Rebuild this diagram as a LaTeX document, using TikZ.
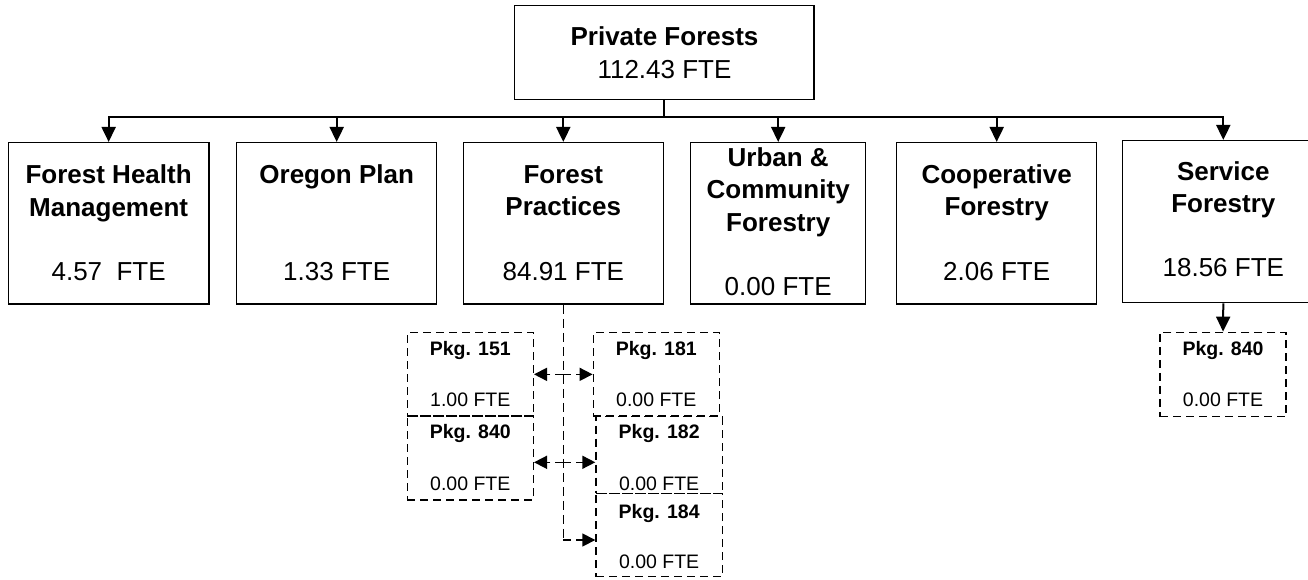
\documentclass[tikz,border=0pt]{standalone}
\usepackage{fontspec}
\setmainfont{Liberation Sans}
\usetikzlibrary{arrows.meta}
\begin{document}
\begin{tikzpicture}[x=1pt,y=-1pt,
  box/.style={draw, line width=1.5pt, rectangle, inner sep=0pt},
  dbox/.style={draw, line width=1.4pt, rectangle, inner sep=0pt, dash pattern=on 8pt off 5pt},
  big/.style={anchor=base, inner sep=0pt, font=\fontsize{26}{30}\selectfont},
  bigb/.style={big, font=\fontsize{26}{30}\selectfont\bfseries},
  sm/.style={anchor=base, inner sep=0pt, font=\fontsize{19.5}{23}\selectfont},
  smb/.style={sm, font=\fontsize{19.5}{23}\selectfont\bfseries},
  conn/.style={line width=2pt, -{Triangle[width=14pt,length=15pt]}},
  dconn/.style={line width=1.6pt, dash pattern=on 8pt off 5pt, -{Triangle[width=13pt,length=13pt]}},
  dline/.style={line width=1.6pt, dash pattern=on 9pt off 5pt}]
\useasboundingbox (0,0) rectangle (1308,580);
\clip (0,0) rectangle (1308,580);
\fill[white] (0,0) rectangle (1308,580);

% main boxes
\node[box, minimum width=299.3pt, minimum height=93.6pt] (top) at (664.35,52.5) {};
\node[box, minimum width=200.7pt, minimum height=161.3pt] (fh) at (108.65,223.35) {};
\node[box, minimum width=200pt, minimum height=161.3pt] (op) at (336.7,223.35) {};
\node[box, minimum width=200pt, minimum height=161.3pt] (fp) at (563.3,223.35) {};
\node[box, minimum width=175pt, minimum height=161.3pt] (uc) at (778.2,223.35) {};
\node[box, minimum width=200pt, minimum height=161.3pt] (co) at (996.7,223.35) {};
\node[box, minimum width=201.3pt, minimum height=162pt] (sf) at (1223.3,221.7) {};

% package boxes
\node[dbox, minimum width=126pt, minimum height=83.3pt] (p151) at (470.3,374.35) {};
\node[dbox, minimum width=126pt, minimum height=84pt] (p840l) at (470.3,458) {};
\node[dbox, minimum width=126pt, minimum height=83.3pt] (p181) at (656.3,374.35) {};
\node[dbox, minimum width=126.3pt, minimum height=76.6pt] (p182) at (659.15,455) {};
\node[dbox, minimum width=126.3pt, minimum height=83.4pt] (p184) at (659.15,535) {};
\node[dbox, minimum width=126pt, minimum height=84.4pt] (p840r) at (1223,374.5) {};

% texts
\node[bigb] (t1) at (664.5,45.7) {Private Forests};
\node[big] (t2) at (664.5,78.3) {112.43 FTE};

\node[bigb] (fh1) at (108.65,184) {Forest Health};
\node[bigb] (fh2) at (108.65,216.7) {Management};
\node[big] (fh3) at (108.65,280) {4.57\ \ FTE};

\node[bigb] (op1) at (336.7,184) {Oregon Plan};
\node[big] (op3) at (336.7,280) {1.33 FTE};

\node[bigb] (fp1) at (563.3,183.3) {Forest};
\node[bigb] (fp2) at (563.3,215.7) {Practices};
\node[big] (fp3) at (563.3,280) {84.91 FTE};

\node[bigb] (uc1) at (778.2,166.7) {Urban \&};
\node[bigb] (uc2) at (778.2,199) {Community};
\node[bigb] (uc3) at (778.2,231) {Forestry};
\node[big] (uc4) at (778.2,295.7) {0.00 FTE};

\node[bigb] (co1) at (996.7,183.3) {Cooperative};
\node[bigb] (co2) at (996.7,215.7) {Forestry};
\node[big] (co3) at (996.7,280) {2.06 FTE};

\node[bigb] (sf1) at (1223.3,181) {Service};
\node[bigb] (sf2) at (1223.3,212.7) {Forestry};
\node[big] (sf3) at (1223.3,276.7) {18.56 FTE};

\node[smb] (a1) at (470.3,355) {Pkg. 151};
\node[sm] (a2) at (470.3,406.7) {1.00 FTE};
\node[smb] (b1) at (470.3,438.3) {Pkg. 840};
\node[sm] (b2) at (470.3,490) {0.00 FTE};
\node[smb] (c1) at (656.3,355) {Pkg. 181};
\node[sm] (c2) at (656.3,406.7) {0.00 FTE};
\node[smb] (d1) at (659.15,438.3) {Pkg. 182};
\node[sm] (d2) at (659.15,490) {0.00 FTE};
\node[smb] (e1) at (659.15,518.3) {Pkg. 184};
\node[sm] (e2) at (659.15,568.3) {0.00 FTE};
\node[smb] (f1) at (1223,355) {Pkg. 840};
\node[sm] (f2) at (1223,406.7) {0.00 FTE};

% tree connectors
\foreach \c in {fh,op,fp,uc,co,sf}
  \draw[conn] (top.south) -- ++(0,17) -| (\c.north);
\draw[conn] (sf.south) -- (p840r.north);

% forest practices package connectors
\draw[dline] (fp.south) -- (fp.south |- 0,540);
\draw[dconn] (fp.south |- 0,540) -- ([yshift=-5pt]p184.west);
\draw[dconn] (fp.south |- p151.east) -- (p151.east);
\draw[dconn] (fp.south |- p181.west) -- (p181.west);
\draw[dconn] (fp.south |- 0,462.3) -- (p840l.east |- 0,462.3);
\draw[dconn] (fp.south |- 0,462.3) -- (p182.west |- 0,462.3);
\end{tikzpicture}
\end{document}
